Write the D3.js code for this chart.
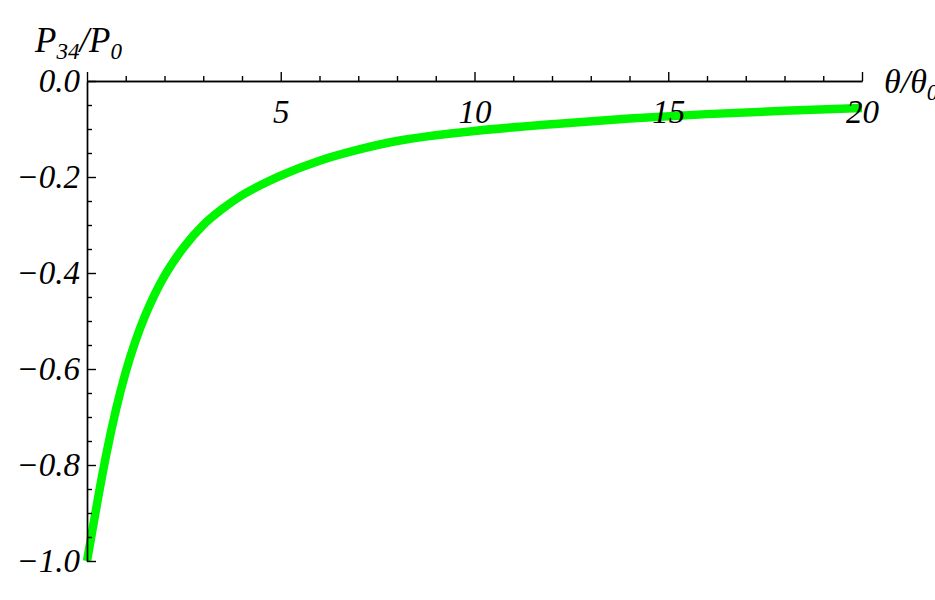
<!DOCTYPE html>
<html>
<head>
<meta charset="utf-8">
<script src="https://cdn.jsdelivr.net/npm/d3@7"></script>
<style>
  html, body { margin: 0; padding: 0; background: #fff; overflow: hidden; }
  svg { display: block; }
  .tick text, .lbl { font-family: "Liberation Serif", "DejaVu Serif", serif; font-style: italic; fill: #000; }
</style>
</head>
<body>
<svg id="chart" width="935" height="600"></svg>
<script>
// Data
const thetaRatio = [0, 0.1, 0.25, 0.5, 0.75, 1, 1.25, 1.5, 1.75, 2, 2.5, 3, 3.5, 4, 4.5, 5, 6, 7, 8, 9, 10, 12, 14, 16, 18, 20];
const pRatio = [-1.000, -0.954, -0.885, -0.777, -0.684, -0.606, -0.542, -0.489, -0.444, -0.406, -0.346, -0.300, -0.266, -0.238, -0.216, -0.197, -0.166, -0.143, -0.125, -0.113, -0.104, -0.090, -0.078, -0.069, -0.062, -0.056];
const xMajorTicks = [0, 5, 10, 15, 20];
const xMinorTicks = [1, 2, 3, 4, 6, 7, 8, 9, 11, 12, 13, 14, 16, 17, 18, 19];
const yMajorTicks = [0, -0.2, -0.4, -0.6, -0.8, -1.0];
const yMinorTicks = [-0.05, -0.1, -0.15, -0.25, -0.3, -0.35, -0.45, -0.5, -0.55, -0.65, -0.7, -0.75, -0.85, -0.9, -0.95];

const svg = d3.select("#chart");
const x = d3.scaleLinear().domain([0, 20]).range([87, 862]);
const y = d3.scaleLinear().domain([-1, 0]).range([561, 81]);

const fs = 33;

// curve
const data = thetaRatio.map((t, i) => ({ t, p: pRatio[i] }));
svg.append("path")
  .datum(data)
  .attr("fill", "none")
  .attr("stroke", "rgb(0,245,0)")
  .attr("stroke-width", 8.5)
  .attr("d", d3.line().x(d => x(d.t)).y(d => y(d.p)).curve(d3.curveMonotoneX));

// x axis (at y = 0), ticks upward, labels below
const xAxisY = y(0);
svg.append("g").attr("transform", `translate(0,${xAxisY})`)
  .call(d3.axisBottom(x).tickValues(xMinorTicks).tickSizeInner(-5).tickSizeOuter(0).tickFormat(""));
const gx = svg.append("g").attr("transform", `translate(0,${xAxisY})`)
  .call(d3.axisBottom(x).tickValues(xMajorTicks).tickSizeInner(-9).tickSizeOuter(0).tickPadding(19)
    .tickFormat(d => d === 0 ? "" : d3.format("d")(d)));
gx.selectAll("text").attr("font-size", fs);

// y axis (at x = 0), ticks to the right, labels left
const yAxisX = x(0);
svg.append("g").attr("transform", `translate(${yAxisX},0)`)
  .call(d3.axisLeft(y).tickValues(yMinorTicks).tickSizeInner(-5).tickSizeOuter(0).tickFormat(""));
const gy = svg.append("g").attr("transform", `translate(${yAxisX},0)`)
  .call(d3.axisLeft(y).tickValues(yMajorTicks).tickSizeInner(-9).tickSizeOuter(0).tickPadding(7)
    .tickFormat(d3.format(".1f")));
gy.selectAll("text").attr("font-size", fs);

svg.selectAll(".domain, .tick line").attr("stroke", "#000").attr("stroke-width", 1.4);

// y axis label  P34/P0
const yl = svg.append("text").attr("class", "lbl").attr("x", 35).attr("y", 52).attr("font-size", 35);
yl.append("tspan").text("P");
yl.append("tspan").attr("font-size", 23).attr("dy", 7).text("34");
yl.append("tspan").attr("dy", -7).text("/P");
yl.append("tspan").attr("font-size", 23).attr("dy", 7).text("0");

// x axis label  θ/θ0
const xl = svg.append("text").attr("class", "lbl").attr("x", 884).attr("y", 93).attr("font-size", 34);
xl.append("tspan").text("θ/θ");
xl.append("tspan").attr("font-size", 23).attr("dy", 7).text("0");
</script>
</body>
</html>
